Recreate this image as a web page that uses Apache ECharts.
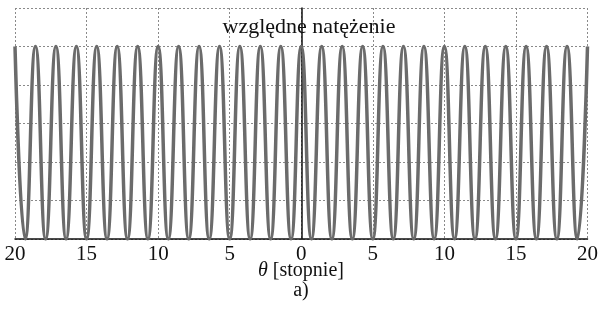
<!DOCTYPE html>
<html>
<head>
<meta charset="utf-8">
<script src="https://cdn.jsdelivr.net/npm/echarts@6/dist/echarts.min.js"></script>
<style>
  html, body { margin: 0; padding: 0; background: #fff; }
  #chart { width: 601px; height: 321px; }
</style>
</head>
<body>
<div id="chart"></div>
<script>
// Two-slit interference: angles (degrees) of the bright maxima and dark minima
const maximaDeg = [
  -20.00, -18.57, -17.14, -15.71, -14.29, -12.86, -11.43, -10.00, -8.57, -7.14,
  -5.71, -4.29, -2.86, -1.43, 0.00, 1.43, 2.86, 4.29, 5.71, 7.14,
  8.57, 10.00, 11.43, 12.86, 14.29, 15.71, 17.14, 18.57, 20.00
];
const minimaDeg = [
  -19.29, -17.86, -16.43, -15.00, -13.57, -12.14, -10.71, -9.29, -7.86, -6.43,
  -5.00, -3.57, -2.14, -0.71, 0.71, 2.14, 3.57, 5.00, 6.43, 7.86,
  9.29, 10.71, 12.14, 13.57, 15.00, 16.43, 17.86, 19.29
];
const maxIntensity = 1.0;
const minIntensity = 0.0;
const tickLabels = ['20', '15', '10', '5', '0', '5', '10', '15', '20'];

const serif = '"Liberation Serif", "DejaVu Serif", serif';

// merge the maxima and minima into one ordered intensity curve
const curve = maximaDeg.map(a => [a, maxIntensity])
  .concat(minimaDeg.map(a => [a, minIntensity]))
  .sort((p, q) => p[0] - q[0]);

const chart = echarts.init(document.getElementById('chart'), null, { renderer: 'canvas' });

const gridLine = { show: true, lineStyle: { color: '#8a8a8a', width: 1, type: [2, 2] } };

chart.setOption({
  animation: false,
  backgroundColor: '#fff',
  grid: { left: 15, right: 12, top: 8, bottom: 82, containLabel: false },
  title: {
    text: 'względne natężenie',
    left: 304,
    textAlign: 'center',
    top: 11,
    textStyle: { fontFamily: serif, fontSize: 22, fontWeight: 'normal', color: '#111' }
  },
  xAxis: {
    type: 'value',
    min: -20, max: 20, interval: 5,
    axisLine: { show: true, onZero: false, lineStyle: { color: '#111', width: 1.5 } },
    axisTick: { show: false },
    splitLine: gridLine,
    axisLabel: {
      margin: 5,
      fontFamily: serif, fontSize: 21, color: '#111',
      formatter: v => tickLabels[Math.round((v + 20) / 5)]
    }
  },
  yAxis: {
    type: 'value',
    min: 0, max: 1.2, interval: 0.2,
    axisLine: { show: true, onZero: true, lineStyle: { color: '#111', width: 1.5 } },
    axisTick: { show: false },
    axisLabel: { show: false },
    splitLine: gridLine
  },
  graphic: [{
    type: 'text',
    style: {
      x: 301, y: 271,
      text: '{t|θ} [stopnie]',
      align: 'center', verticalAlign: 'middle',
      font: '20px ' + serif, fill: '#111',
      rich: { t: { fontFamily: serif, fontSize: 20, fontStyle: 'italic', fill: '#111' } }
    }
  }, {
    type: 'text',
    style: {
      x: 301, y: 291,
      text: 'a)',
      align: 'center', verticalAlign: 'middle',
      font: '20px ' + serif, fill: '#111'
    }
  }],
  series: [{
    type: 'line',
    data: curve,
    smooth: true,
    showSymbol: false,
    lineStyle: { color: '#6b6b6b', width: 3.5 },
    z: 3
  }]
});
</script>
</body>
</html>
